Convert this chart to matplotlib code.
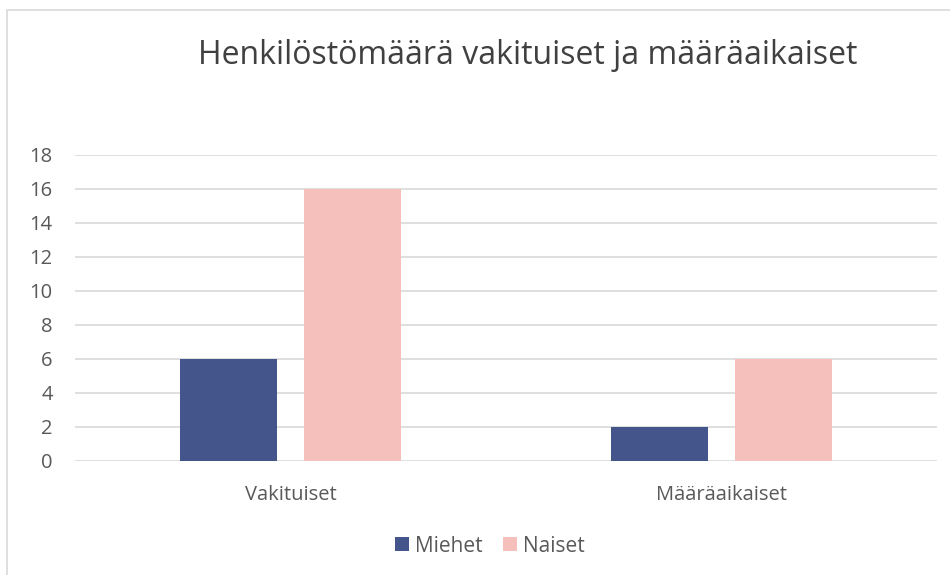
import matplotlib
matplotlib.use("Agg")
import matplotlib.pyplot as plt
from matplotlib.patches import Rectangle
import numpy as np

categories = ["Vakituiset", "Määräaikaiset"]
series_names = ["Miehet", "Naiset"]
miehet = [6, 2]
naiset = [16, 6]
yticks = [0, 2, 4, 6, 8, 10, 12, 14, 16, 18]
title = "Henkilöstömäärä vakituiset ja määräaikaiset"

colors = ["#44558C", "#F5BFBC"]
txt = "#595959"
plt.rcParams['font.family'] = ['Open Sans', 'DejaVu Sans']

W, H = 950, 575
fig = plt.figure(figsize=(9.5, 5.75), dpi=100)
ax = fig.add_axes([75 / W, (H - 461) / H, (937 - 75) / W, (461 - 155) / H])

x = np.arange(len(categories))
bw = 97 / 431
off = 0.1428
ax.bar(x - off, miehet, bw, color=colors[0], label=series_names[0], zorder=3)
ax.bar(x + off, naiset, bw, color=colors[1], label=series_names[1], zorder=3)

ax.set_xlim(-0.5, 1.5)
ax.set_ylim(0, 18)
ax.set_yticks(yticks)
ax.set_yticklabels([str(v) for v in yticks], color=txt, fontsize=14.5)
ax.set_xticks(x)
ax.set_xticklabels(categories, color=txt, fontsize=14.5)
ax.tick_params(axis='both', length=0)
ax.tick_params(axis='y', pad=16)
ax.tick_params(axis='x', pad=17)
ax.grid(axis='y', color='#D9D9D9', linewidth=1.2, zorder=0)
for s in ax.spines.values():
    s.set_visible(False)

fig.text(528 / W, 1 - 56 / H, title, ha='center', va='center', fontsize=23, color='#404040')

leg = fig.legend(loc='center', bbox_to_anchor=(490 / W, 1 - 546 / H), ncol=2, frameon=False,
                 fontsize=15, handlelength=0.65, handleheight=0.65, handletextpad=0.3,
                 columnspacing=1.0, labelcolor=txt)

fig.add_artist(Rectangle((7 / W, -0.1), 1.2, (1 - 10 / H) + 0.1, transform=fig.transFigure,
                         fill=False, edgecolor='#D9D9D9', linewidth=1.2))

fig.savefig("out.png", dpi=100, facecolor='white')
